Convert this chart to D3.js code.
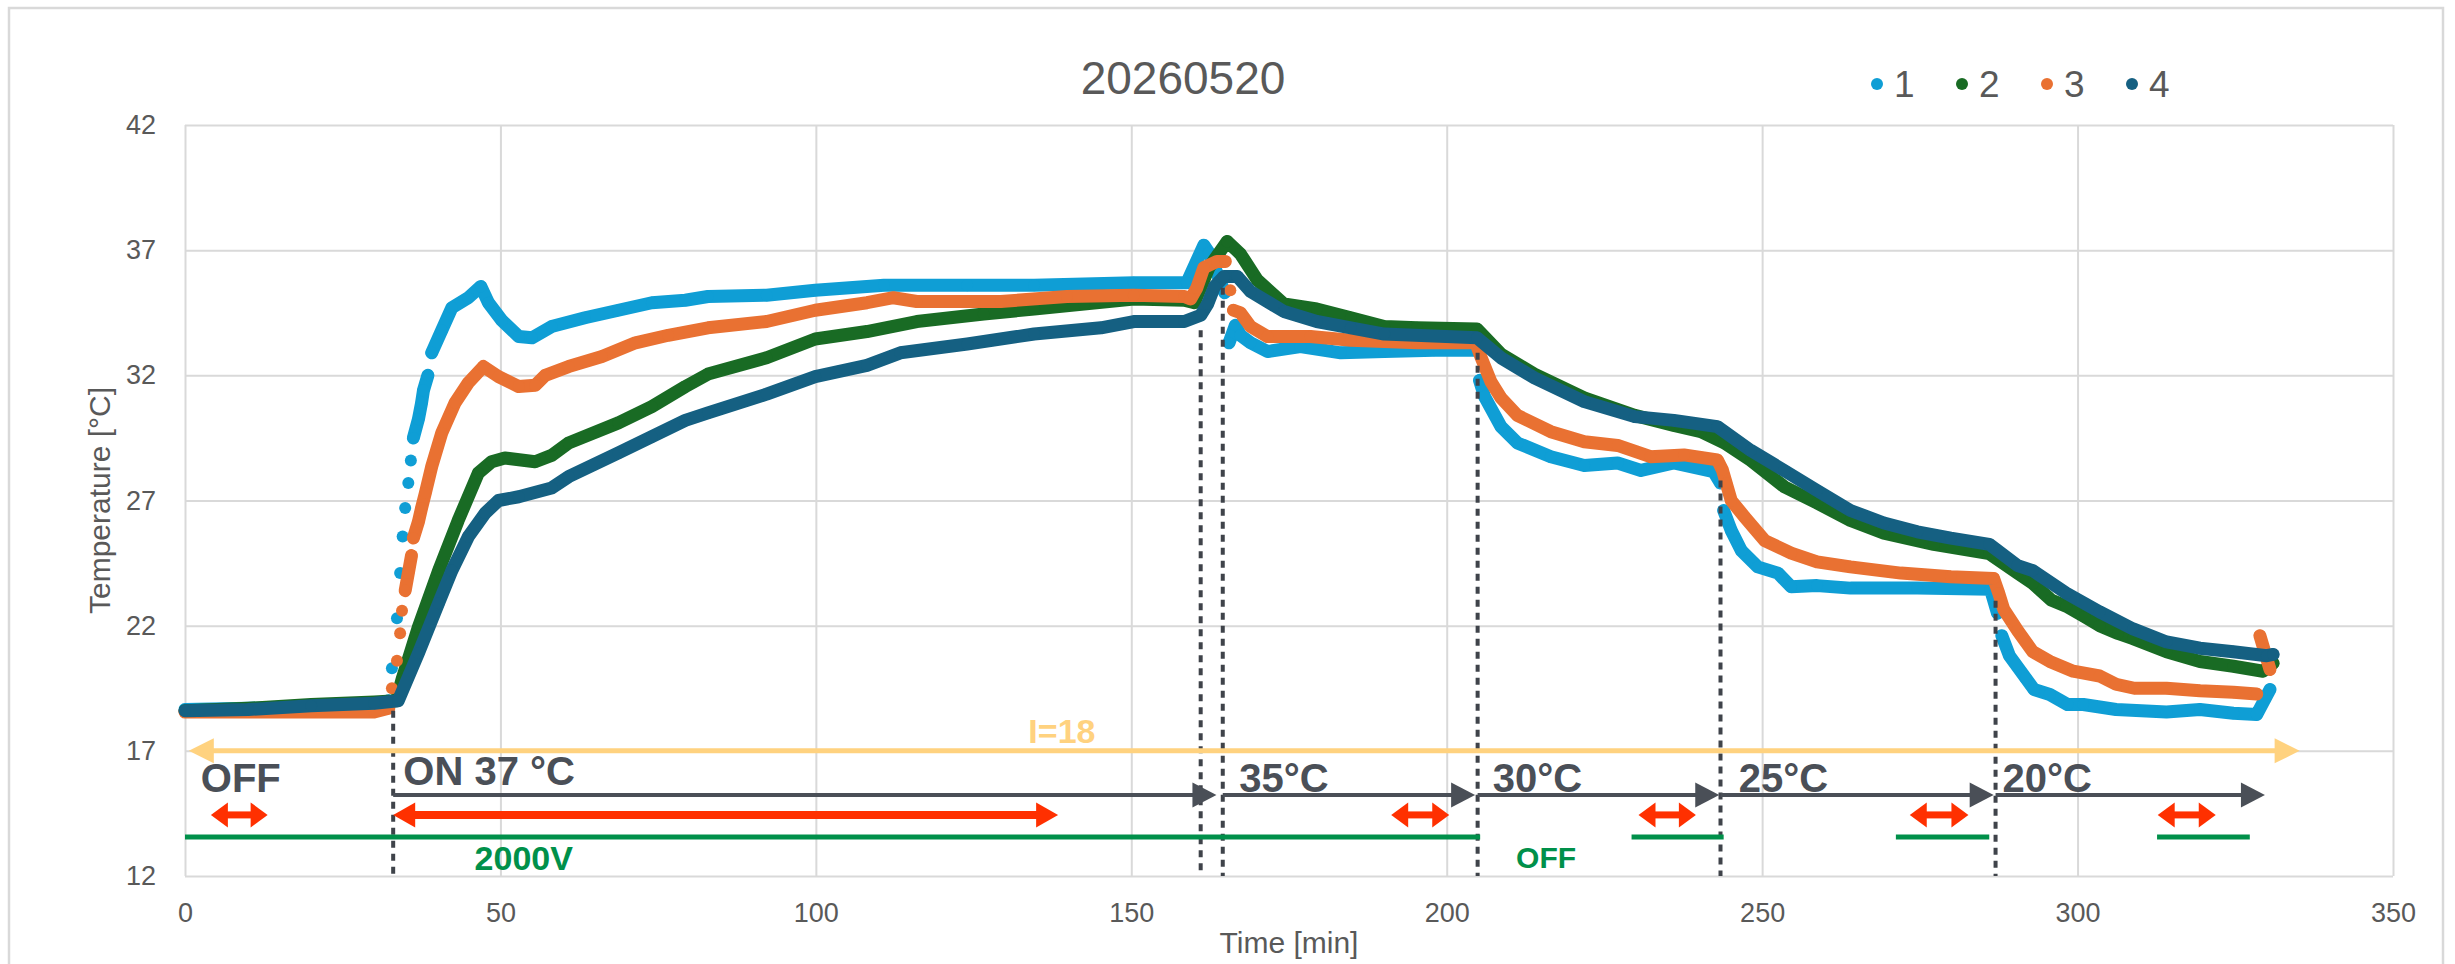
<!DOCTYPE html>
<html>
<head>
<meta charset="utf-8">
<script src="https://cdn.jsdelivr.net/npm/d3@7"></script>
<style>
  html, body { margin: 0; padding: 0; background: #ffffff; }
  svg { display: block; font-family: "Liberation Sans", Arial, sans-serif; }
</style>
</head>
<body>
<svg id="chart" width="2455" height="964"></svg>
<script>
// ---------------- DATA ----------------
const chartTitle = "20260520";
const xTicks = [0, 50, 100, 150, 200, 250, 300, 350];
const yTicks = [12, 17, 22, 27, 32, 37, 42];
const seriesNames = ["1", "2", "3", "4"];
const seriesColors = ["#0F9ED5", "#196B24", "#E97132", "#156082"];

// [time (min), temperature (°C)]
const s1 = [[0,18.65],[10,18.7],[20,18.75],[30,18.8],[32.3,19.0],[32.8,20.3],[33.6,22.3],[34.1,24.1],[34.5,25.56],[34.9,26.7],[35.4,27.7],[35.8,28.6],[36.2,29.5],[37.0,30.25],[37.5,30.9],[37.8,31.4],[38.5,32.0],[39.1,32.9],[40.7,33.8],[42.3,34.7],[44.9,35.1],[46.9,35.55],[48.1,34.9],[50.2,34.2],[52.9,33.55],[55.0,33.5],[58.1,33.95],[63.4,34.3],[68.7,34.6],[74,34.9],[79.3,35.0],[82.9,35.15],[92.2,35.2],[99.9,35.4],[110.8,35.6],[124,35.6],[134.6,35.6],[150.4,35.7],[158.8,35.7],[161.5,37.2],[162.3,36.9],[164.8,35.3],[165.5,33.3],[166.5,34.0],[167.3,33.6],[168.9,33.3],[171.6,32.95],[176.8,33.15],[183.2,32.9],[190.1,32.95],[198,33.0],[204.6,33.0],[205.2,31.8],[206,31.15],[208.6,29.95],[211.2,29.3],[216.5,28.75],[221.8,28.4],[227.1,28.5],[230.8,28.2],[236,28.5],[242.3,28.15],[243.4,27.7],[243.9,26.6],[245.1,25.8],[246.7,25.0],[249.3,24.35],[252.5,24.1],[254.6,23.55],[258.7,23.6],[264,23.5],[274.6,23.5],[286.2,23.45],[287.3,22.5],[288,21.6],[289.2,20.8],[291.8,19.9],[293.1,19.45],[295.6,19.25],[298.4,18.85],[300.9,18.85],[306.1,18.65],[314.1,18.55],[319.4,18.65],[324.7,18.5],[328.4,18.45],[330.5,19.45]];
const s2 = [[0,18.6],[10,18.7],[20,18.85],[30,18.95],[33.5,19.0],[34.4,19.85],[37,21.95],[40.2,24.2],[43.3,26.2],[46.5,28.1],[48.6,28.55],[50.7,28.7],[55.5,28.55],[58.1,28.8],[60.8,29.3],[68.7,30.1],[74,30.75],[79.3,31.55],[82.9,32.05],[92.2,32.7],[99.9,33.45],[108.1,33.75],[116,34.15],[126.6,34.45],[134.6,34.65],[142.5,34.85],[150.4,35.05],[158.4,35.0],[160,34.9],[162.3,36.3],[165.2,37.35],[167.3,36.85],[170,35.8],[174.2,34.85],[179.4,34.65],[184.8,34.3],[190.1,33.95],[195.3,33.9],[204.8,33.85],[208.6,32.85],[213.9,32.05],[221.8,31.1],[229.8,30.4],[236,30.0],[240.3,29.75],[244,29.3],[248.2,28.6],[253.5,27.55],[258.7,26.9],[264,26.2],[269.3,25.7],[277.2,25.25],[286,24.88],[290.5,24.1],[292.9,23.69],[295.8,23.03],[298.2,22.78],[301.1,22.36],[303.5,22.0],[306.4,21.69],[308.8,21.48],[314.1,20.96],[319.4,20.57],[324.7,20.38],[329.4,20.18],[331,20.5]];
const s3 = [[0,18.55],[10,18.55],[20,18.55],[30,18.55],[32.3,18.7],[32.8,19.5],[33.6,20.6],[34.1,21.7],[34.4,22.6],[34.9,23.4],[35.4,24.1],[35.9,24.8],[36.2,25.5],[37,26.15],[37.5,26.7],[38.1,27.3],[39.1,28.35],[40.7,29.7],[42.8,30.9],[44.9,31.7],[47.3,32.35],[49.7,31.95],[52.9,31.55],[55.5,31.6],[57.1,32.0],[60.8,32.35],[66.1,32.75],[71.4,33.3],[76.6,33.6],[82.9,33.9],[92.2,34.15],[99.9,34.6],[108.1,34.9],[112.3,35.1],[116,34.95],[129.3,34.95],[139.8,35.15],[150.4,35.2],[158.4,35.15],[159.4,35.05],[160.4,35.5],[161.5,36.3],[163.6,36.55],[164.9,36.55],[165.7,35.4],[166.2,34.6],[167.3,34.5],[168.9,33.95],[171.6,33.55],[178.4,33.55],[184.8,33.4],[195.3,33.3],[204.6,33.3],[205.4,32.75],[207,31.75],[208.6,31.1],[211.2,30.4],[216.5,29.75],[221.8,29.35],[227.1,29.2],[232.3,28.75],[237.6,28.82],[242.9,28.62],[243.7,28.22],[244.3,27.7],[245.1,27.0],[247.2,26.35],[250.4,25.4],[254.6,24.9],[258.7,24.55],[264,24.35],[272,24.1],[279.9,23.95],[286.7,23.88],[287.5,23.3],[288.3,22.65],[290.5,21.8],[292.9,20.96],[295.6,20.57],[299.3,20.18],[303.5,19.99],[306.1,19.66],[309,19.5],[314.1,19.5],[319.4,19.4],[324.7,19.34],[328.4,19.27],[328.9,21.6],[330.5,20.25]];
const s4 = [[0,18.6],[10,18.65],[20,18.8],[30,18.9],[33.8,19.0],[37,20.9],[40.2,22.9],[42.3,24.2],[44.9,25.55],[47.6,26.5],[49.7,27.0],[52.9,27.15],[58.1,27.5],[60.8,27.95],[68.7,28.9],[74,29.55],[79.3,30.2],[82.9,30.5],[92.2,31.25],[99.9,31.95],[108.1,32.4],[113.4,32.9],[124,33.25],[134.6,33.65],[145.2,33.9],[150.4,34.15],[158.4,34.15],[161,34.4],[162.1,34.85],[163.2,35.55],[164.7,35.95],[166.8,35.95],[168.9,35.35],[174.2,34.55],[179.4,34.15],[184.8,33.9],[190.1,33.65],[204.8,33.5],[208.6,32.7],[213.9,31.9],[221.8,30.95],[229.8,30.35],[236,30.2],[242.9,29.95],[248.2,29.0],[253.5,28.2],[258.7,27.4],[264,26.6],[269.3,26.1],[274.6,25.75],[279.9,25.5],[286,25.25],[290.5,24.4],[292.9,24.2],[298.2,23.3],[303.5,22.55],[308.8,21.87],[314.1,21.35],[319.4,21.1],[324.7,20.96],[330,20.8],[331,20.85]];
const seriesData = [s1, s2, s3, s4];

// Annotations (data units)
const stageLines = [[33, 18.6], [161, 33.8], [164.5, 35.5], [204.9, 32.9], [243.4, 27.8], [287, 23.0]]; // [time, top temp]
const stageArrows = [[33, 163.5], [164.5, 204.5], [204.9, 243.2], [243.4, 286.7], [287, 329.7]];
const stageArrowLevel = 15.24;
const stageLabels = [["OFF", 2.5, 15.36], ["ON 37 °C", 34.6, 15.64], ["35°C", 167.1, 15.36], ["30°C", 207.3, 15.36], ["25°C", 246.3, 15.36], ["20°C", 288.1, 15.36]];
const measureArrows = [[4.1, 13.1], [33, 138.4], [191.2, 200.4], [230.4, 239.5], [273.4, 282.7], [312.7, 321.9]];
const measureLevel = 14.44;
const voltageBars = [[0, 205.3], [229.3, 243.9], [271.2, 286], [312.6, 327.3]];
const voltageLevel = 13.56;
const voltageLabels = [["2000V", 45.9, 12.24], ["OFF", 211, 12.32]];
const currentSpan = [0.6, 335.2];
const currentLevel = 17;
const currentLabel = ["I=18", 139, 17.31];

// ---------------- CHART ----------------
const svg = d3.select("#chart");
const W = 2455, H = 964;
const plot = { left: 185, right: 2393, top: 125, bottom: 876 };
const x = d3.scaleLinear().domain([0, 350]).range([plot.left, plot.right]);
const y = d3.scaleLinear().domain([12, 42]).range([plot.bottom, plot.top]);

svg.append("rect").attr("width", W).attr("height", H).attr("fill", "#fff");
svg.append("rect").attr("x", 9).attr("y", 8).attr("width", 2434).attr("height", 990)
  .attr("fill", "none").attr("stroke", "#D9D9D9").attr("stroke-width", 2.5);

// Title
svg.append("text").attr("x", 1183).attr("y", 94).attr("text-anchor", "middle")
  .attr("font-size", 46).attr("fill", "#595959").text(chartTitle);

// Gridlines + axes
const gx = svg.append("g").attr("transform", `translate(0,${plot.bottom})`)
  .call(d3.axisBottom(x).tickValues(xTicks).tickSize(-(plot.bottom - plot.top)).tickPadding(27).tickFormat(d3.format("d")));
const gy = svg.append("g").attr("transform", `translate(${plot.left},0)`)
  .call(d3.axisLeft(y).tickValues(yTicks).tickSize(-(plot.right - plot.left)).tickPadding(29).tickFormat(d3.format("d")));
[gx, gy].forEach(g => {
  g.select(".domain").remove();
  g.selectAll(".tick line").attr("stroke", "#D9D9D9").attr("stroke-width", 2);
  g.selectAll(".tick text").attr("fill", "#595959").attr("font-size", 27)
    .attr("font-family", "'Liberation Sans', Arial, sans-serif");
});

// Axis titles
svg.append("text").attr("x", (plot.left + plot.right) / 2).attr("y", 953).attr("text-anchor", "middle")
  .attr("font-size", 30).attr("fill", "#595959").text("Time [min]");
svg.append("text").attr("transform", `translate(110,${(plot.top + plot.bottom) / 2}) rotate(-90)`)
  .attr("text-anchor", "middle").attr("font-size", 30).attr("fill", "#595959").text("Temperature [°C]");

// Series (dense markers rendered as thick band; steep jumps show separate markers)
const line = d3.line().x(d => x(d[0])).y(d => y(d[1]));
seriesData.forEach((data, i) => {
  const g = svg.append("g");
  const segs = [];
  let cur = [data[0]];
  for (let k = 1; k < data.length; k++) {
    const dx = Math.abs(x(data[k][0]) - x(data[k - 1][0]));
    const dy = Math.abs(y(data[k][1]) - y(data[k - 1][1]));
    if (dy <= 3.2 * dx + 8) cur.push(data[k]);
    else { segs.push(cur); cur = [data[k]]; }
  }
  segs.push(cur);
  segs.filter(s => s.length > 1).forEach(s => {
    g.append("path").attr("d", line(s)).attr("fill", "none").attr("stroke", seriesColors[i])
      .attr("stroke-width", 13).attr("stroke-linejoin", "round").attr("stroke-linecap", "round");
  });
  g.selectAll("circle").data(data).join("circle")
    .attr("cx", d => x(d[0])).attr("cy", d => y(d[1])).attr("r", 6).attr("fill", seriesColors[i]);
});

// Legend
const legX = [1877, 1962, 2047, 2132];
seriesNames.forEach((n, i) => {
  svg.append("circle").attr("cx", legX[i]).attr("cy", 84).attr("r", 6).attr("fill", seriesColors[i]);
  svg.append("text").attr("x", legX[i] + 17).attr("y", 97).attr("font-size", 37).attr("fill", "#595959").text(n);
});

// Annotations
const ann = svg.append("g");
const GRAY = "#4A4F57", RED = "#FF3000", GREEN = "#00904A", YELLOW = "#FFD27F";

// Dotted stage lines
stageLines.forEach(([t, v]) => {
  ann.append("line").attr("x1", x(t)).attr("x2", x(t)).attr("y1", y(v)).attr("y2", y(12))
    .attr("stroke", "#3F434A").attr("stroke-width", 4).attr("stroke-dasharray", "7,6");
});

function tri(xt, yc, len, half, dir) {
  return `M${xt},${yc}L${xt - dir * len},${yc - half}L${xt - dir * len},${yc + half}Z`;
}

// Current arrow (I=18)
{
  const yc = y(currentLevel), a = x(currentSpan[0]), b = x(currentSpan[1]);
  ann.append("line").attr("x1", a + 20).attr("x2", b - 20).attr("y1", yc).attr("y2", yc)
    .attr("stroke", YELLOW).attr("stroke-width", 5);
  ann.append("path").attr("d", tri(a, yc, 25, 12.5, -1)).attr("fill", YELLOW);
  ann.append("path").attr("d", tri(b, yc, 25, 12.5, 1)).attr("fill", YELLOW);
  ann.append("text").attr("x", x(currentLabel[1])).attr("y", y(currentLabel[2])).attr("text-anchor", "middle")
    .attr("font-size", 34).attr("font-weight", "bold").attr("fill", YELLOW).text(currentLabel[0]);
}

// Stage arrows
stageArrows.forEach(([a, b]) => {
  const yc = y(stageArrowLevel), xa = x(a), xb = x(b);
  ann.append("line").attr("x1", xa).attr("x2", xb - 20).attr("y1", yc).attr("y2", yc)
    .attr("stroke", GRAY).attr("stroke-width", 4);
  ann.append("path").attr("d", tri(xb, yc, 24, 12.5, 1)).attr("fill", GRAY);
});
stageLabels.forEach(([txt, t, v]) => {
  ann.append("text").attr("x", x(t)).attr("y", y(v)).attr("font-size", 40).attr("font-weight", "bold")
    .attr("fill", GRAY).text(txt);
});

// Measurement (red) double arrows
measureArrows.forEach(([a, b]) => {
  const yc = y(measureLevel), xa = x(a), xb = x(b);
  const long = (xb - xa) > 200;
  const hl = long ? 22 : 17;
  ann.append("line").attr("x1", xa + hl - 2).attr("x2", xb - hl + 2).attr("y1", yc).attr("y2", yc)
    .attr("stroke", RED).attr("stroke-width", long ? 8 : 7);
  ann.append("path").attr("d", tri(xa, yc, hl, 12.5, -1)).attr("fill", RED);
  ann.append("path").attr("d", tri(xb, yc, hl, 12.5, 1)).attr("fill", RED);
});

// Voltage bars
voltageBars.forEach(([a, b]) => {
  ann.append("line").attr("x1", x(a)).attr("x2", x(b)).attr("y1", y(voltageLevel)).attr("y2", y(voltageLevel))
    .attr("stroke", GREEN).attr("stroke-width", 5);
});
voltageLabels.forEach(([txt, t, v], i) => {
  ann.append("text").attr("x", x(t)).attr("y", y(v)).attr("font-size", i === 0 ? 34 : 30).attr("font-weight", "bold")
    .attr("fill", GREEN).text(txt);
});
</script>
</body>
</html>
